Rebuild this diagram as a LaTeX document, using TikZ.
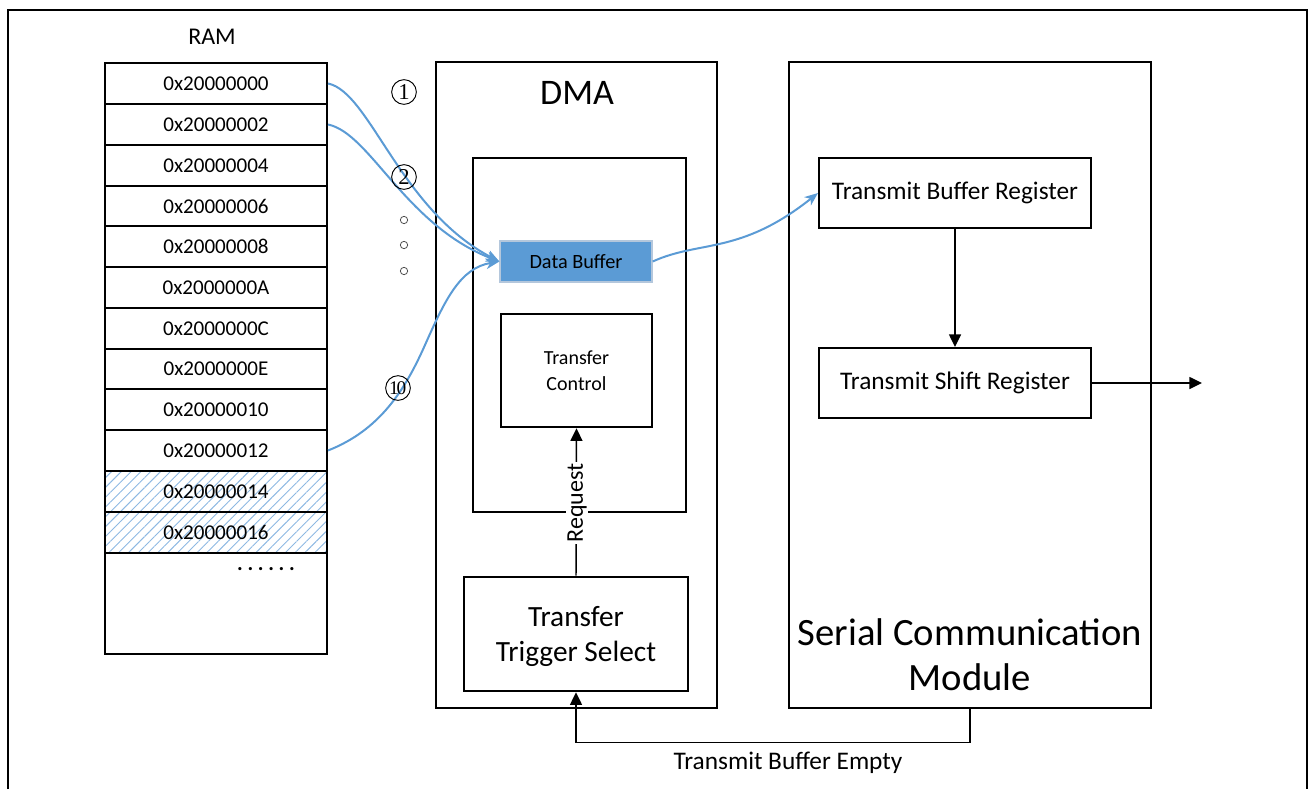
\documentclass[tikz,border=0pt]{standalone}
\usepackage{fontspec}
\setmainfont{Carlito}
\newfontfamily\numfont{Liberation Serif}
\usetikzlibrary{arrows.meta,fit,patterns.meta}
\definecolor{dblue}{HTML}{5B9BD5}
\definecolor{hatchblue}{HTML}{8DB8E2}
\definecolor{dbborder}{HTML}{B4C7DC}
\begin{document}
\begin{tikzpicture}[x=0.75pt,y=-0.75pt,
  cell/.style={draw=black, line width=1.5pt, inner sep=0pt},
  addr/.style={font=\fontsize{15.8}{18}\selectfont, inner sep=0pt},
  hatched/.style={pattern={Lines[angle=45,distance=5.2pt,line width=0.7pt]}, pattern color=hatchblue},
  bigbox/.style={draw=black, line width=2.2pt, inner sep=0pt},
  midbox/.style={draw=black, line width=1.9pt, inner sep=0pt},
  regbox/.style={draw=black, line width=1.5pt, inner sep=0pt},
  blk/.style={line width=1.1pt, -{Triangle[length=9.5pt,width=9pt]}},
  blu/.style={draw=dblue, line width=1.5pt, -{Stealth[length=10pt,width=8pt,inset=3pt]}},
  circnum/.style={circle, draw=black, line width=0.7pt, inner sep=0pt, minimum size=18.5pt, font=\numfont\fontsize{17}{18}\selectfont},
  dotc/.style={circle, draw=black!70, line width=0.6pt, inner sep=0pt, minimum size=5.5pt}
]
\useasboundingbox (0,0) rectangle (1310,789);
% outer frame
\draw[line width=1.8pt] (8,789) -- (8,10) -- (1307,10) -- (1307,789);

% RAM
\node[font=\fontsize{18}{20}\selectfont] (ramlbl) at (212,37) {RAM};
\node[cell, fit={(105,63)(327,104)}, label={[addr]center:0x20000000}] (r0) {};
\node[cell, fit={(105,104)(327,145)}, label={[addr]center:0x20000002}] (r1) {};
\node[cell, fit={(105,145)(327,186)}, label={[addr]center:0x20000004}] (r2) {};
\node[cell, fit={(105,186)(327,226)}, label={[addr]center:0x20000006}] (r3) {};
\node[cell, fit={(105,226)(327,267)}, label={[addr]center:0x20000008}] (r4) {};
\node[cell, fit={(105,267)(327,308)}, label={[addr]center:0x2000000A}] (r5) {};
\node[cell, fit={(105,308)(327,349)}, label={[addr]center:0x2000000C}] (r6) {};
\node[cell, fit={(105,349)(327,389)}, label={[addr]center:0x2000000E}] (r7) {};
\node[cell, fit={(105,389)(327,430)}, label={[addr]center:0x20000010}] (r8) {};
\node[cell, fit={(105,430)(327,471)}, label={[addr]center:0x20000012}] (r9) {};
\node[cell, hatched, fit={(105,471)(327,512)}, label={[addr]center:0x20000014}] (r10) {};
\node[cell, hatched, fit={(105,512)(327,553)}, label={[addr]center:0x20000016}] (r11) {};
\node[cell, fit={(105,553)(327,654)}] (r12) {};
\node[font=\fontsize{16}{18}\selectfont\bfseries, inner sep=0pt] (ellip) at (266,569) {.\kern3.5pt.\kern3.5pt.\kern3.5pt.\kern3.5pt.\kern3.5pt.};

% DMA
\node[bigbox, fit={(436,62)(717,708)}] (dma) {};
\node[font=\fontsize{27}{30}\selectfont] (dmalbl) at (577,93) {DMA};
\node[midbox, fit={(473,158)(686,512)}] (inner) {};
\node[fill=dblue, draw=dbborder, line width=1pt, inner sep=0pt, fit={(500,241)(652,282)},
  label={[font=\fontsize{15.2}{18}\selectfont, inner sep=0pt]center:Data Buffer}] (db) {};
\node[midbox, fit={(501,314)(652,427)},
  label={[font=\fontsize{15}{19.5}\selectfont, align=center, inner sep=0pt]center:Transfer\\Control}] (tc) {};
\node[midbox, fit={(464,577)(688,691)},
  label={[font=\fontsize{22}{26.5}\selectfont, align=center, inner sep=0pt, yshift=-2pt]center:Transfer\\Trigger Select}] (tts) {};

% Serial Communication Module
\node[bigbox, fit={(789,62)(1151,708)}] (scm) {};
\node[font=\fontsize{29}{34}\selectfont, align=center] (scmlbl) at (970,655) {Serial Communication\\Module};
\node[regbox, fit={(819,158)(1091,228)},
  label={[font=\fontsize{19}{22}\selectfont, inner sep=0pt]center:Transmit Buffer Register}] (tbr) {};
\node[regbox, fit={(819,348)(1091,418)},
  label={[font=\fontsize{19}{22}\selectfont, inner sep=0pt]center:Transmit Shift Register}] (tsr) {};
\coordinate (txout) at (1202,383);

% black connectors
\draw[blk] (tbr.south) -- (tsr.north);
\draw[blk] (tsr.east) -- (txout);
\draw[blk] (tts.north) -- (tc.south);
\node[fill=white, rotate=90, inner sep=1pt, font=\fontsize{18}{20}\selectfont] (req) at (577,503) {Request};
\draw[blk] (scm.south) -- ++(0,33) coordinate (tbecorner) -| (tts.south);
\node[font=\fontsize{19}{22}\selectfont] (tbelbl) at (788,763) {Transmit Buffer Empty};

% blue data paths
\draw[blu] (r0.east) .. controls (370,92) and (400,210) .. (db.west);
\draw[blu] (r1.east) .. controls (370,133) and (405,225) .. (db.west);
\draw[blu] (r9.east) .. controls (380,430) and (405,390) .. (425,345) .. controls (445,300) and (460,268) .. (db.west);
\draw[blu] (db.east) .. controls (700,240) and (740,255) .. (tbr.west);

% step labels
\node[circnum] (n1) at (404,92) {1};
\node[circnum] (n2) at (404,177) {2};
\node[circnum, font=\numfont\fontsize{14.5}{16}\selectfont] (n10) at (398,388) {\kern-0.5pt1\kern-1.5pt0};
\node[dotc] (d1) at (404,220) {};
\node[dotc] (d2) at (404,245) {};
\node[dotc] (d3) at (404,271) {};
\end{tikzpicture}
\end{document}
